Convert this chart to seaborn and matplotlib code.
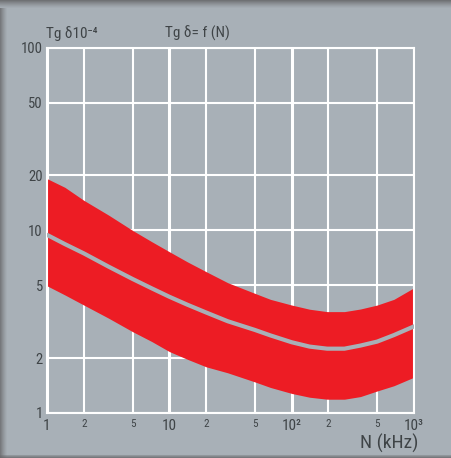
import numpy as np
import pandas as pd
import matplotlib
matplotlib.use("Agg")
import matplotlib.pyplot as plt
import seaborn as sns
from matplotlib.ticker import FixedLocator, NullLocator, FixedFormatter

# Loss factor tg(delta) x 1e-4 versus frequency N (kHz): band limits and mean curve
freq_khz = [1, 1.4, 2, 3.2, 5, 7.2, 10, 14, 20, 30, 50, 67, 100, 140, 195, 270, 365, 500, 685, 1000]
tg_upper = [19.2, 17.2, 14.6, 12.1, 10.0, 8.66, 7.64, 6.73, 5.94, 5.17, 4.52, 4.19, 3.90, 3.70, 3.59, 3.59, 3.71, 3.90, 4.19, 4.85]
tg_mid = [9.45, 8.41, 7.48, 6.32, 5.42, 4.81, 4.33, 3.92, 3.55, 3.18, 2.85, 2.66, 2.44, 2.31, 2.25, 2.25, 2.34, 2.46, 2.67, 2.98]
tg_lower = [4.97, 4.43, 3.90, 3.30, 2.79, 2.46, 2.17, 1.97, 1.79, 1.66, 1.48, 1.38, 1.28, 1.22, 1.19, 1.19, 1.23, 1.32, 1.41, 1.57]

y_ticks = [1, 2, 5, 10, 20, 50, 100]
y_tick_labels = ["1", "2", "5", "10", "20", "50", "100"]
x_ticks = [1, 2, 5, 10, 20, 50, 100, 200, 500, 1000]
x_tick_labels = ["1", "2", "5", "10", "2", "5", "10²", "2", "5", "10³"]
x_decades = [1, 10, 100, 1000]

BG = "#a8b0b7"
RED = "#ed1c24"
TXT = "#3f4447"
W, H = 452, 458

sns.set_theme(style="white")
plt.rcParams["font.family"] = ["Liberation Sans Narrow", "Roboto Condensed", "DejaVu Sans Condensed",
                               "Open Sans Condensed", "Liberation Sans", "DejaVu Sans"]

df = pd.DataFrame({"N": freq_khz, "upper": tg_upper, "mid": tg_mid, "lower": tg_lower})

fig = plt.figure(figsize=(W / 100, H / 100), dpi=100, facecolor=BG)

# panel background with a soft shadow on the top, left and bottom edges
bg = np.ones((H, W, 3)) * np.array(matplotlib.colors.to_rgb(BG))
dark = np.array([0.40, 0.40, 0.41])
for i in range(8):
    a = (1 - i / 8) ** 1.3 * 0.85
    bg[i, :, :] = bg[i, :, :] * (1 - a) + dark * a
for j in range(7):
    a = (1 - j / 7) ** 1.3 * 0.75
    bg[8:, j, :] = bg[8:, j, :] * (1 - a) + dark * a
for i in range(3):
    a = 0.35 + 0.2 * i
    bg[H - 3 + i, :, :] = bg[H - 3 + i, :, :] * (1 - a) + dark * a
bg_ax = fig.add_axes([0, 0, 1, 1], zorder=-10)
bg_ax.imshow(bg, aspect="auto", interpolation="bilinear")
bg_ax.axis("off")

ax = fig.add_axes([47 / W, 1 - 413 / H, 367 / W, 365.3 / H])
ax.set_facecolor(BG)
ax.set_xscale("log")
ax.set_yscale("log")
ax.set_xlim(1, 1000)
ax.set_ylim(1, 100)

# grid
for v in x_ticks:
    ax.axvline(v, color="white", lw=2.2 if v in x_decades else 1.5, zorder=1)
for v in y_ticks:
    ax.axhline(v, color="white", lw=1.5, zorder=1)
for s in ax.spines.values():
    s.set_color("white")
    s.set_linewidth(1.5)

# scatter band split by the mean curve
ax.fill_between(df["N"], df["mid"], df["upper"], color=RED, lw=0, zorder=2)
ax.fill_between(df["N"], df["lower"], df["mid"], color=RED, lw=0, zorder=2)
sns.lineplot(data=df, x="N", y="mid", ax=ax, color=BG, lw=3.0, zorder=3)

ax.xaxis.set_major_locator(FixedLocator(x_ticks))
ax.xaxis.set_major_formatter(FixedFormatter(x_tick_labels))
ax.xaxis.set_minor_locator(NullLocator())
ax.yaxis.set_major_locator(FixedLocator(y_ticks))
ax.yaxis.set_major_formatter(FixedFormatter(y_tick_labels))
ax.yaxis.set_minor_locator(NullLocator())
ax.tick_params(axis="both", length=0, colors=TXT)
ax.tick_params(axis="x", pad=4)
ax.tick_params(axis="y", pad=3, labelsize=10.5)
for v, lab in zip(x_ticks, ax.get_xticklabels()):
    lab.set_fontsize(11 if v in x_decades else 8)
ax.set_xlabel("")
ax.set_ylabel("")

fig.text(46 / W, 1 - 38 / H, "Tg δ10⁻⁴", color=TXT, fontsize=11, ha="left", va="baseline")
fig.text(165 / W, 1 - 38 / H, "Tg δ= f (N)", color=TXT, fontsize=11, ha="left", va="baseline")
fig.text(418 / W, 1 - 449 / H, "N (kHz)", color=TXT, fontsize=14, ha="right", va="baseline")

fig.savefig("out.png", dpi=100, facecolor=BG)
